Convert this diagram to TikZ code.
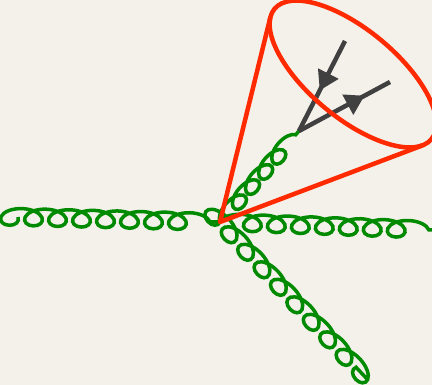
\documentclass[tikz,border=0pt]{standalone}
\usepackage{tikz}
\usetikzlibrary{arrows.meta, decorations.pathmorphing, decorations.markings}
\definecolor{paper}{HTML}{F4F1EA}
\definecolor{gluongreen}{HTML}{008A00}
\definecolor{conered}{HTML}{FF2A00}
\definecolor{quarkgray}{HTML}{404040}

\begin{document}
\begin{tikzpicture}[x=1pt, y=1pt,
        gluon/.style={draw=gluongreen, line width=3.5pt, decorate,
            decoration={coil, amplitude=#1, segment length=24pt, aspect=1.7}},
        gluon/.default=8.5pt,
        quark/.style={draw=quarkgray, line width=4.5pt, postaction={decorate},
            decoration={markings, mark=at position #1 with {\arrow{Triangle[length=19pt, width=22pt]}}}},
        cone/.style={draw=conered, line width=4.5pt, line join=round}]
        \fill[paper] (0,0) rectangle (432,385);
        \useasboundingbox (0,0) rectangle (432,385);
        % vertex and line ends
        \coordinate (v) at (220,163);
        \coordinate (l) at (18,168);
        \coordinate (r) at (434,155);
        \coordinate (d) at (368,5);
        \coordinate (g) at (299,254);
        \coordinate (q1) at (345,344);
        \coordinate (q2) at (390,303);
        % gluons (negative amplitude puts the loops on the other side)
        \draw[gluon=-8.5pt] (l) -- (v);
        \draw[gluon] (v) -- (r);
        \draw[gluon=-8.5pt] (v) -- (d);
        \draw[gluon=7.5pt, decoration={segment length=20pt}] (v) -- (g);
        % quark pair
        \draw[quark=0.55] (q1) -- (g);
        \draw[quark=0.72] (g) -- (q2);
        % cone
        \coordinate (c) at (353,311);
        \coordinate (t1) at (422.5,239.6);
        \coordinate (t2) at (270.4,367.9);
        \draw[cone] (t2) -- (v) -- (t1);
        \draw[cone, rotate around={-39.7:(c)}] (c) ellipse (102 and 44);
\end{tikzpicture}
\end{document}
